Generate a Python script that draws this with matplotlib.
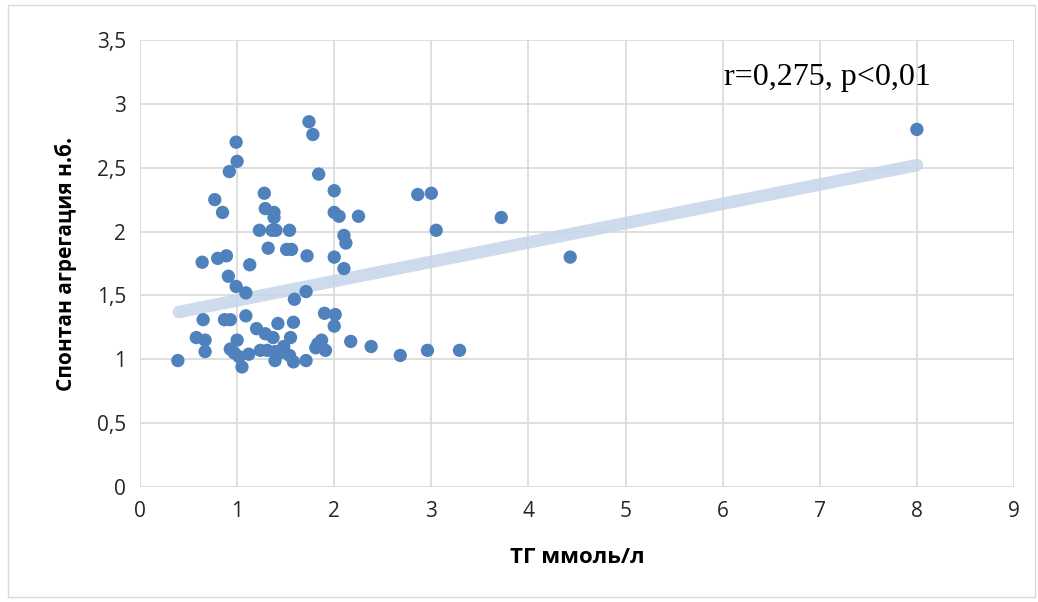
import matplotlib
matplotlib.use("Agg")
import matplotlib.pyplot as plt
import numpy as np

tg = [0.39, 0.58, 0.67, 0.67, 0.64, 0.65, 0.77, 0.85, 0.80, 0.89, 0.87, 0.93, 0.91, 0.93, 0.99, 1.00,
      0.99, 1.00, 0.92, 0.97, 1.02, 1.05, 1.12, 1.09, 1.09, 1.13, 1.20, 1.23, 1.24, 1.28, 1.29, 1.29,
      1.31, 1.32, 1.36, 1.40, 1.38, 1.38, 1.37, 1.39, 1.39, 1.42, 1.44, 1.48, 1.51, 1.54, 1.55, 1.54,
      1.56, 1.58, 1.58, 1.59, 1.71, 1.72, 1.71, 1.74, 1.78, 1.81, 1.83, 1.84, 1.87, 1.90, 1.91, 2.00,
      2.00, 2.00, 2.01, 2.00, 2.05, 2.10, 2.12, 2.10, 2.17, 2.25, 2.38, 2.68, 2.86, 2.96, 3.00, 3.05,
      3.29, 3.72, 4.43, 8.00]
agg = [0.99, 1.17, 1.15, 1.06, 1.76, 1.31, 2.25, 2.15, 1.79, 1.81, 1.31, 1.31, 1.65, 1.08, 1.57, 1.15,
       2.70, 2.55, 2.47, 1.05, 1.02, 0.94, 1.04, 1.52, 1.34, 1.74, 1.24, 2.01, 1.07, 2.30, 2.18, 1.20,
       1.07, 1.87, 2.01, 2.01, 2.15, 2.11, 1.17, 1.06, 0.99, 1.28, 1.05, 1.10, 1.86, 2.01, 1.17, 1.03,
       1.86, 1.29, 0.98, 1.47, 1.53, 1.81, 0.99, 2.86, 2.76, 1.09, 1.12, 2.45, 1.15, 1.36, 1.07, 2.32,
       2.15, 1.80, 1.35, 1.26, 2.12, 1.97, 1.91, 1.71, 1.14, 2.12, 1.10, 1.03, 2.29, 1.07, 2.30, 2.01,
       1.07, 2.11, 1.80, 2.80]
trend_x = [0.4, 8.0]
trend_y = [1.37, 2.52]

x_ticks = list(range(0, 10))
y_ticks = [0, 0.5, 1, 1.5, 2, 2.5, 3, 3.5]
y_tick_labels = ["0", "0,5", "1", "1,5", "2", "2,5", "3", "3,5"]

fig = plt.figure(figsize=(10.38, 6.02), dpi=100)
fig.patch.set_facecolor("white")
fig.add_artist(plt.Rectangle((8/1038, 5/602), 1027/1038, 592/602, transform=fig.transFigure,
                             fill=False, edgecolor="#d9d9d9", linewidth=1))
ax = fig.add_axes([140/1038, 1 - 487/602, (1014-140)/1038, (487-40)/602])
ax.set_xlim(0, 9)
ax.set_ylim(0, 3.5)
ax.set_xticks(x_ticks)
ax.set_yticks(y_ticks)
ax.set_xticklabels([str(v) for v in x_ticks])
ax.set_yticklabels(y_tick_labels)
ax.grid(True, color="#d9d9d9", linewidth=1.2)
ax.set_axisbelow(True)
for s in ax.spines.values():
    s.set_visible(False)
ax.tick_params(length=0, labelcolor="#262626", pad=10)
for lbl in ax.get_xticklabels() + ax.get_yticklabels():
    lbl.set_family("Open Sans")
    lbl.set_fontsize(15)

ax.plot(trend_x, trend_y, color="#c5d5ea", linewidth=9, solid_capstyle="round", alpha=0.85, zorder=2)
ax.scatter(tg, agg, s=92, color="#4f81bd", edgecolors="none", zorder=3)

ax.set_xlabel("ТГ ммоль/л", fontsize=16, fontweight="bold", family="Open Sans", labelpad=18)
ax.set_ylabel("Спонтан агрегация н.б.", fontsize=15, fontweight="bold", family="Open Sans", labelpad=14)
ax.text(6.01, 3.21, "r=0,275, p<0,01", fontsize=23, family="Liberation Serif", ha="left", va="center")

fig.savefig("out.png", dpi=100)
